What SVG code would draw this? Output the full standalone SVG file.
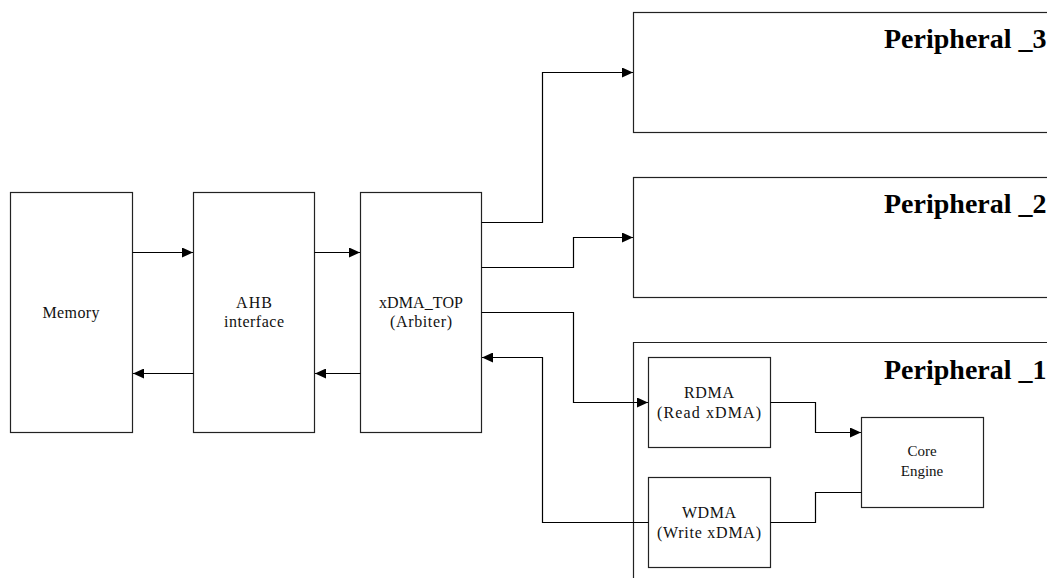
<svg xmlns="http://www.w3.org/2000/svg" width="1047" height="578" viewBox="0 0 1047 578">
<defs>
<marker id="arr" markerUnits="userSpaceOnUse" markerWidth="11" markerHeight="10" refX="11" refY="5" orient="auto">
<path d="M0,0 L11,5 L0,10 z" fill="#000"/>
</marker>
<style>
.box{fill:#fff;stroke:#222;stroke-width:1.2}
.lbl{font-family:"Liberation Serif","Times New Roman",serif;font-size:16px;fill:#111;text-anchor:middle}
.sm{font-size:15px}
.big{font-family:"Liberation Serif","Times New Roman",serif;font-size:28px;font-weight:bold;fill:#000}
.wire{fill:none;stroke:#000;stroke-width:1.2}
</style>
</defs>
<rect width="1047" height="578" fill="#fff"/>

<g id="peripheral3">
<rect class="box" x="633.5" y="12.5" width="440" height="120"/>
<text class="big" x="884" y="48">Peripheral _3</text>
</g>
<g id="peripheral2">
<rect class="box" x="633.5" y="177.5" width="440" height="120"/>
<text class="big" x="884" y="213">Peripheral _2</text>
</g>
<g id="peripheral1">
<path class="box" d="M633.5,590 L633.5,342.5 L1060,342.5"/>
<text class="big" x="884" y="379">Peripheral _1</text>
</g>

<g id="memory">
<rect class="box" x="10.5" y="192.5" width="122" height="240"/>
<text class="lbl" x="71" y="318" textLength="57" lengthAdjust="spacing">Memory</text>
</g>
<g id="ahb">
<rect class="box" x="193.5" y="192.5" width="121" height="240"/>
<text class="lbl" x="254" y="308" textLength="36" lengthAdjust="spacing">AHB</text>
<text class="lbl" x="254" y="327" textLength="60" lengthAdjust="spacing">interface</text>
</g>
<g id="xdma_top">
<rect class="box" x="360.5" y="192.5" width="121" height="240"/>
<text class="lbl" x="421" y="308" textLength="84" lengthAdjust="spacing">xDMA_TOP</text>
<text class="lbl" x="421" y="327" textLength="62" lengthAdjust="spacing">(Arbiter)</text>
</g>
<g id="rdma">
<rect class="box" x="648.5" y="357.5" width="122" height="90"/>
<text class="lbl" x="709" y="398" textLength="50" lengthAdjust="spacing">RDMA</text>
<text class="lbl" x="709" y="418" textLength="104" lengthAdjust="spacing">(Read xDMA)</text>
</g>
<g id="wdma">
<rect class="box" x="648.5" y="477.5" width="122" height="90"/>
<text class="lbl" x="709" y="518" textLength="54" lengthAdjust="spacing">WDMA</text>
<text class="lbl" x="709" y="538" textLength="104" lengthAdjust="spacing">(Write xDMA)</text>
</g>
<g id="core_engine">
<rect class="box" x="861.5" y="417.5" width="122" height="90"/>
<text class="lbl sm" x="922" y="456">Core</text>
<text class="lbl sm" x="922" y="476">Engine</text>
</g>

<g id="connectors">
<path class="wire" d="M132.5,252.5 L193,252.5" marker-end="url(#arr)"/>
<path class="wire" d="M314.5,252.5 L360,252.5" marker-end="url(#arr)"/>
<path class="wire" d="M360.5,373.5 L315,373.5" marker-end="url(#arr)"/>
<path class="wire" d="M193.5,373.5 L133,373.5" marker-end="url(#arr)"/>
<path class="wire" d="M481.5,222.5 L542.5,222.5 L542.5,72.5 L633,72.5" marker-end="url(#arr)"/>
<path class="wire" d="M481.5,267.5 L573.5,267.5 L573.5,237.5 L633,237.5" marker-end="url(#arr)"/>
<path class="wire" d="M481.5,312.5 L573.5,312.5 L573.5,402.5 L648,402.5" marker-end="url(#arr)"/>
<path class="wire" d="M648.5,522.5 L542.5,522.5 L542.5,357.5 L482,357.5" marker-end="url(#arr)"/>
<path class="wire" d="M770.5,402.5 L815.5,402.5 L815.5,432.5 L861,432.5" marker-end="url(#arr)"/>
<path class="wire" d="M861.5,492.5 L815.5,492.5 L815.5,522.5 L770.5,522.5"/>
</g>
</svg>
